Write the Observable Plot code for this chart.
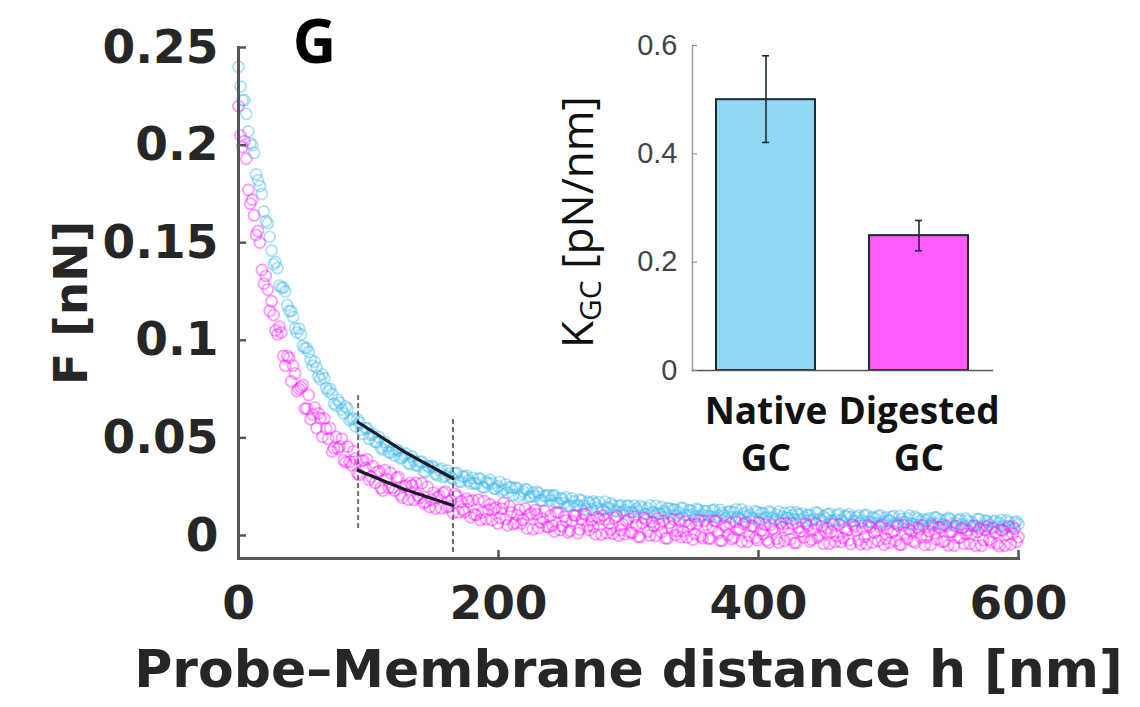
<!DOCTYPE html>
<html><head><meta charset="utf-8">
<script src="https://cdn.jsdelivr.net/npm/d3@7"></script>
<script src="https://cdn.jsdelivr.net/npm/@observablehq/plot@0.6"></script>
<style>
html,body{margin:0;padding:0;background:#fff;}
#wrap{position:relative;width:1140px;height:707px;overflow:hidden;background:#fff;}
#main{position:absolute;left:0;top:0;}
#inset{position:absolute;left:540px;top:20px;}
</style></head>
<body><div id="wrap"><div id="main"></div><div id="inset"></div></div>
<script>
// ---- main panel: force vs probe-membrane distance (two interleaved sampling sets) ----
const distance = [
0,3,6,9,12,15,18,21,24,27,30,33,36,39,42,45,48,51,54,57,
60,63,66,69,72,75,78,81,84,87,90,93,96,99,102,105,108,111,114,117,
120,123,126,129,132,135,138,141,144,147,150,153,156,159,162,165,168,171,174,177,
180,183,186,189,192,195,198,201,204,207,210,213,216,219,222,225,228,231,234,237,
240,243,246,249,252,255,258,261,264,267,270,273,276,279,282,285,288,291,294,297,
300,303,306,309,312,315,318,321,324,327,330,333,336,339,342,345,348,351,354,357,
360,363,366,369,372,375,378,381,384,387,390,393,396,399,402,405,408,411,414,417,
420,423,426,429,432,435,438,441,444,447,450,453,456,459,462,465,468,471,474,477,
480,483,486,489,492,495,498,501,504,507,510,513,516,519,522,525,528,531,534,537,
540,543,546,549,552,555,558,561,564,567,570,573,576,579,582,585,588,591,594,597,
600];
const forceNative = [
.240,.223,.216,.201,.196,.182,.175,.161,.153,.139,.137,.127,.125,.115,.112,.104,.103,.096,.094,.087,
.086,.080,.0805,.074,.0725,.0665,.068,.0625,.065,.0595,.056,.058,.052,.055,.0515,.048,.0505,.044,.046,.0425,
.041,.0435,.040,.042,.0365,.0385,.0357,.0378,.0325,.0347,.035,.0308,.0342,.0306,.0315,.029,.032,.0275,.030,.028,
.0295,.0265,.029,.0246,.0267,.0268,.0239,.0275,.0235,.022,.0245,.0245,.020,.0225,.0235,.020,.0201,.0217,.0178,.0204,
.018,.0206,.0167,.0188,.0195,.0152,.0174,.0156,.0178,.0135,.0167,.0174,.0142,.0135,.0173,.0141,.0154,.0122,.0155,.0128,
.0151,.0119,.0137,.0151,.011,.0139,.0118,.0152,.0111,.0125,.0139,.0103,.0132,.0116,.014,.0104,.0128,.0097,.0131,.0105,
.0124,.0098,.0132,.0102,.0116,.009,.0125,.0119,.0093,.0133,.0097,.0106,.0086,.012,.0115,.0089,.0123,.0093,.0107,.0081,
.0115,.0089,.0104,.0118,.0082,.0092,.0106,.0075,.012,.0084,.0098,.0108,.0077,.0081,.0111,.007,.0099,.0094,.0073,.0102,
.0076,.0105,.007,.0089,.0098,.0062,.0092,.0076,.010,.0064,.0084,.0068,.0102,.0056,.0086,.0075,.0059,.0088,.0063,.0092,
.0081,.0055,.009,.0059,.0063,.0082,.0046,.0076,.007,.0049,.0083,.0052,.0072,.0041,.0075,.0064,.0048,.0078,.0042,.0066,
.0058];
const forceDigested = [
.220,.199,.193,.170,.164,.156,.136,.133,.115,.113,.103,.104,.087,.091,.087,.074,.076,.065,.072,.062,
.055,.060,.060,.0495,.043,.0505,.0455,.0385,.0455,.036,.0395,.031,.0385,.039,.030,.027,.033,.023,.029,.032,
.023,.030,.0193,.0256,.0269,.0182,.0205,.0268,.0172,.0146,.022,.0195,.014,.0225,.015,.0115,.020,.0175,.012,.0175,
.018,.0105,.008,.0176,.0132,.0078,.0144,.009,.0166,.0052,.0118,.0065,.0132,.0079,.0036,.0113,.013,.0038,.0086,.0044,
.0102,.002,.0118,.0047,.0076,.0024,.0103,.0012,.008,.0109,.0028,.0046,.0095,.0004,.0083,.0061,.001,.0099,.0028,.0007,
.0085,.0014,.0053,-.0008,.0091,.002,.0069,-.0002,.0057,.0076,-.0015,.0044,.0003,.0082,.0021,-.001,.0059,.0008,.0077,-.0014,
.0055,-.0016,.0074,.0013,-.0028,.0042,.0061,-.001,.003,-.0031,.0068,-.0002,.0047,-.0024,.0026,.0055,-.0036,.0034,-.0017,.0062,
-.0028,.0032,.0061,-.0039,.002,-.001,.005,-.0021,.0059,-.0001,-.0042,.0038,.0018,-.0033,.0057,-.0013,.0026,-.0044,.0046,-.0025,
.0035,-.0045,.0044,.0013,-.0027,.0053,-.0017,-.0037,.0022,.0052,-.0048,.0012,.0031,-.0029,.0041,-.0009,-.0049,.0021,.005,-.002,
.004,-.003,-.0051,.0018,.0048,-.0012,-.0042,.0027,.0007,-.0053,.0036,-.0024,.0046,-.0034,.0014,-.0055,.0025,.0005,-.0045,.0035,
-.0008];
const distanceB = [
1.5,4.5,7.5,10.5,13.5,16.5,19.5,22.5,25.5,28.5,31.5,34.5,37.5,40.5,43.5,46.5,49.5,52.5,55.5,58.5,
61.5,64.5,67.5,70.5,73.5,76.5,79.5,82.5,85.5,88.5,91.5,94.5,97.5,100.5,103.5,106.5,109.5,112.5,115.5,118.5,
121.5,124.5,127.5,130.5,133.5,136.5,139.5,142.5,145.5,148.5,151.5,154.5,157.5,160.5,163.5,166.5,169.5,172.5,175.5,178.5,
181.5,184.5,187.5,190.5,193.5,196.5,199.5,202.5,205.5,208.5,211.5,214.5,217.5,220.5,223.5,226.5,229.5,232.5,235.5,238.5,
241.5,244.5,247.5,250.5,253.5,256.5,259.5,262.5,265.5,268.5,271.5,274.5,277.5,280.5,283.5,286.5,289.5,292.5,295.5,298.5,
301.5,304.5,307.5,310.5,313.5,316.5,319.5,322.5,325.5,328.5,331.5,334.5,337.5,340.5,343.5,346.5,349.5,352.5,355.5,358.5,
361.5,364.5,367.5,370.5,373.5,376.5,379.5,382.5,385.5,388.5,391.5,394.5,397.5,400.5,403.5,406.5,409.5,412.5,415.5,418.5,
421.5,424.5,427.5,430.5,433.5,436.5,439.5,442.5,445.5,448.5,451.5,454.5,457.5,460.5,463.5,466.5,469.5,472.5,475.5,478.5,
481.5,484.5,487.5,490.5,493.5,496.5,499.5,502.5,505.5,508.5,511.5,514.5,517.5,520.5,523.5,526.5,529.5,532.5,535.5,538.5,
541.5,544.5,547.5,550.5,553.5,556.5,559.5,562.5,565.5,568.5,571.5,574.5,577.5,580.5,583.5,586.5,589.5,592.5,595.5,598.5];
const forceNativeB = [
.230,.223,.207,.200,.185,.179,.166,.160,.146,.140,.128,.127,.118,.115,.106,.106,.097,.096,.090,.089,
.0815,.0825,.0755,.075,.0675,.0695,.0645,.066,.059,.060,.0595,.0542,.055,.0495,.052,.0477,.045,.048,.0427,.044,
.044,.0395,.041,.037,.0405,.0361,.0377,.0329,.0356,.0358,.0316,.0335,.0299,.0333,.0297,.0317,.0277,.0302,.0307,.0267,
.0267,.0292,.0248,.0274,.0285,.0241,.0252,.0227,.0262,.0247,.0207,.0242,.0212,.0237,.0197,.0218,.0224,.018,.0201,.0207,
.0203,.0164,.019,.0166,.0153,.019,.0152,.0184,.0151,.0173,.0135,.0163,.0171,.0129,.0142,.0165,.0128,.0151,.0119,.0152,
.012,.0153,.0122,.0141,.011,.0154,.0118,.0112,.0146,.0115,.0139,.0133,.0102,.0141,.0105,.0129,.0108,.0137,.0096,.0125,
.0099,.0128,.0092,.0131,.0101,.012,.0094,.0134,.0088,.0112,.0122,.0091,.0125,.0085,.0114,.0094,.0118,.0082,.0122,.0096,
.009,.0119,.0083,.0108,.0112,.0076,.0106,.0085,.0114,.0079,.0088,.0112,.0072,.0106,.008,.01,.0109,.0073,.0093,.0067,
.0101,.007,.0094,.0063,.0103,.0072,.0076,.0095,.006,.0099,.0068,.0087,.0062,.0096,.0055,.0084,.0079,.0058,.0092,.0062,
.0056,.008,.0084,.0048,.0078,.0057,.0086,.005,.0054,.0084,.0043,.0077,.0056,.0071,.0045,.0079,.0038,.0068,.0047,.0072];
const forceDigestedB = [
.205,.202,.177,.172,.154,.150,.129,.126,.120,.105,.107,.092,.092,.079,.083,.075,.077,.065,.0595,.0655,
.0625,.0505,.0547,.055,.0447,.0445,.0495,.0375,.0377,.0432,.0317,.0382,.0347,.0285,.0355,.0325,.0245,.0335,.0245,.0245,
.0295,.0207,.025,.0183,.0256,.0269,.0192,.0165,.0249,.0183,.0138,.0203,.0218,.0143,.0178,.0213,.0118,.0133,.0188,.0093,
.0108,.0183,.0118,.0084,.016,.0136,.0062,.0138,.0084,.015,.0057,.0104,.0061,.0138,.0105,.0032,.0109,.0067,.0125,.0043,
.0051,.0119,.0028,.0096,.0015,.0074,.0102,.0031,.011,.0048,.0077,.0006,.0085,.0103,.0012,.0031,.009,-.0001,.0058,.0076,
.0015,.0094,-.0007,.0062,.0081,0,.0049,.0088,.0017,-.0014,.0065,.0084,.0023,-.0008,.0071,.005,-.0021,.0058,-.0003,.0076,
-.0015,.0044,.0074,-.0027,.0052,.0002,-.0019,.007,.003,.0059,-.0032,.0048,-.0013,.0066,.0006,-.0025,.0054,.0024,-.0037,.0042,
.0062,-.0019,-.0039,.004,.002,.006,-.0031,.0029,-.0011,.0048,.0018,-.0042,.0057,-.0003,-.0033,.0036,-.0024,.0056,.0025,-.0045,
-.0007,.0053,-.0037,.0023,.0043,-.0047,.0033,.0013,-.0027,-.0047,.0053,-.0017,.0022,-.0037,.0032,.0052,-.0008,-.0048,.0012,.0042,
-.0032,.0048,.0018,-.0052,-.0012,.0038,.0008,-.0042,.0048,.0018,-.0052,.0028,-.0022,.0038,-.0042,.0028,-.0052,.0048,.0008,-.0032];
// linear-fit window (dashed lines) and fitted segments
const windowH = [92, 165];
const windowLow = [0.0036, -0.0087];
const windowHigh = [0.0727, 0.0605];
const fitH = [92, 128, 165];
const fitNative = [0.0580, 0.0427, 0.0292];
const fitDigested = [0.0333, 0.0236, 0.0154];
const xTicks = [0, 200, 400, 600];
const xTickLabels = ["0", "200", "400", "600"];
const yTicks = [0, 0.05, 0.1, 0.15, 0.2, 0.25];
const yTickLabels = ["0", "0.05", "0.1", "0.15", "0.2", "0.25"];
const xTitle = "Probe–Membrane distance h [nm]";
const yTitle = "F [nN]";
const panelLetter = "G";

// ---- inset: stiffness ----
const groups = ["Native GC", "Digested GC"];
const kValue = [0.500, 0.249];
const kLow = [0.421, 0.221];
const kHigh = [0.581, 0.277];
const insetTicks = [0, 0.2, 0.4, 0.6];
const insetTickLabels = ["0", "0.2", "0.4", "0.6"];

const CYAN = "#45baea", MAGENTA = "#ff10ff";
const TXT = "#262626";

const nativeData = distance.map((h, i) => ({h, f: forceNative[i]}))
  .concat(distanceB.map((h, i) => ({h, f: forceNativeB[i]})));
const digestedData = distance.map((h, i) => ({h, f: forceDigested[i]}))
  .concat(distanceB.map((h, i) => ({h, f: forceDigestedB[i]})));
const windows = windowH.map((h, i) => ({h, lo: windowLow[i], hi: windowHigh[i]}));
const fitN = fitH.map((h, i) => ({h, f: fitNative[i]}));
const fitD = fitH.map((h, i) => ({h, f: fitDigested[i]}));

const main = Plot.plot({
  width: 1140, height: 707,
  marginLeft: 238, marginRight: 122, marginTop: 47, marginBottom: 149,
  style: {fontFamily: "DejaVu Sans", background: "transparent", overflow: "visible", color: TXT},
  x: {domain: [0, 600]},
  y: {domain: [-0.0118, 0.25]},
  marks: [
    Plot.dot(nativeData, {x: "h", y: "f", r: 5.5, stroke: CYAN, strokeWidth: 1.8, strokeOpacity: 0.45}),
    Plot.dot(digestedData, {x: "h", y: "f", r: 5.5, stroke: MAGENTA, strokeWidth: 1.8, strokeOpacity: 0.42}),
    Plot.ruleX(windows, {x: "h", y1: "lo", y2: "hi", stroke: "#6f6f6f", strokeWidth: 2, strokeDasharray: "5,3"}),
    Plot.line(fitN, {x: "h", y: "f", stroke: "#1b1b28", strokeWidth: 3.2}),
    Plot.line(fitD, {x: "h", y: "f", stroke: "#1b1b28", strokeWidth: 3.2}),
    Plot.frame({anchor: "left", stroke: "#555", strokeWidth: 3}),
    Plot.frame({anchor: "bottom", stroke: "#555", strokeWidth: 3}),
    Plot.axisX({ticks: xTicks, tickFormat: (d, i) => xTickLabels[i], tickSize: -8, tickPadding: 35,
      fontSize: 47, fontWeight: "bold", fill: TXT, stroke: "#555", strokeWidth: 2.5, label: null}),
    Plot.axisY({ticks: yTicks, tickFormat: (d, i) => yTickLabels[i], tickSize: -8, tickPadding: 28,
      fontSize: 47, fontWeight: "bold", fill: TXT, stroke: "#555", strokeWidth: 2.5, label: null}),
    Plot.text([xTitle], {frameAnchor: "bottom", dy: 112, textAnchor: "middle", lineAnchor: "middle",
      fontSize: 52, fontWeight: "bold", fill: TXT}),
    Plot.text([yTitle], {frameAnchor: "left", dx: -167, rotate: -90, textAnchor: "middle", lineAnchor: "middle",
      fontSize: 47, fontWeight: "bold", fill: TXT}),
    Plot.text([panelLetter], {frameAnchor: "top-left", dx: 76, dy: -4, textAnchor: "middle", lineAnchor: "middle",
      fontSize: 60, fontWeight: "bold", fontFamily: "Open Sans", fill: "#000"})
  ]
});
document.getElementById("main").appendChild(main);

const kData = groups.map((g, i) => ({g, k: kValue[i], lo: kLow[i], hi: kHigh[i]}));
const inset = Plot.plot({
  width: 480, height: 460,
  marginLeft: 152, marginRight: 28, marginTop: 25, marginBottom: 110,
  style: {fontFamily: "Liberation Sans", background: "transparent", overflow: "visible", color: TXT},
  x: {domain: groups, paddingInner: 0.35, paddingOuter: 0.15},
  y: {domain: [0, 0.6]},
  color: {domain: groups, range: ["#8fd7f2", "#ff5cff"]},
  marks: [
    Plot.barY(kData, {x: "g", y: "k", fill: "g", stroke: "#1d2b33", strokeWidth: 2}),
    Plot.ruleX(kData, {x: "g", y1: "lo", y2: "hi", stroke: "#1d2b33", strokeWidth: 1.6}),
    Plot.tickY(kData, {x: "g", y: "lo", stroke: "#1d2b33", strokeWidth: 1.6, inset: 46}),
    Plot.tickY(kData, {x: "g", y: "hi", stroke: "#1d2b33", strokeWidth: 1.6, inset: 46}),
    Plot.frame({anchor: "left", stroke: "#a89ca4", strokeWidth: 1.5}),
    Plot.frame({anchor: "bottom", stroke: "#555", strokeWidth: 1.5}),
    Plot.axisY({ticks: insetTicks, tickFormat: (d, i) => insetTickLabels[i], tickSize: -5, tickPadding: 20,
      fontSize: 29, fill: "#444", stroke: "#888", label: null}),
    Plot.axisX({tickSize: 0, tickPadding: 20, tickFormat: d => d.replace(" ", "\n"), lineHeight: 1.27,
      fontSize: 37, fontWeight: "bold", fontFamily: "Open Sans", fill: "#111", label: null})
  ]
});
document.getElementById("inset").appendChild(inset);

// inset y label with subscript
const lab = d3.select(inset).append("text")
  .attr("transform", "translate(53,202) rotate(-90)")
  .attr("text-anchor", "middle")
  .attr("font-family", "Open Sans")
  .attr("font-size", 44)
  .attr("fill", "#111");
lab.append("tspan").text("K");
lab.append("tspan").attr("font-size", 30).attr("dy", 8).text("GC");
lab.append("tspan").attr("dy", -8).text(" [pN/nm]");
</script></body></html>
